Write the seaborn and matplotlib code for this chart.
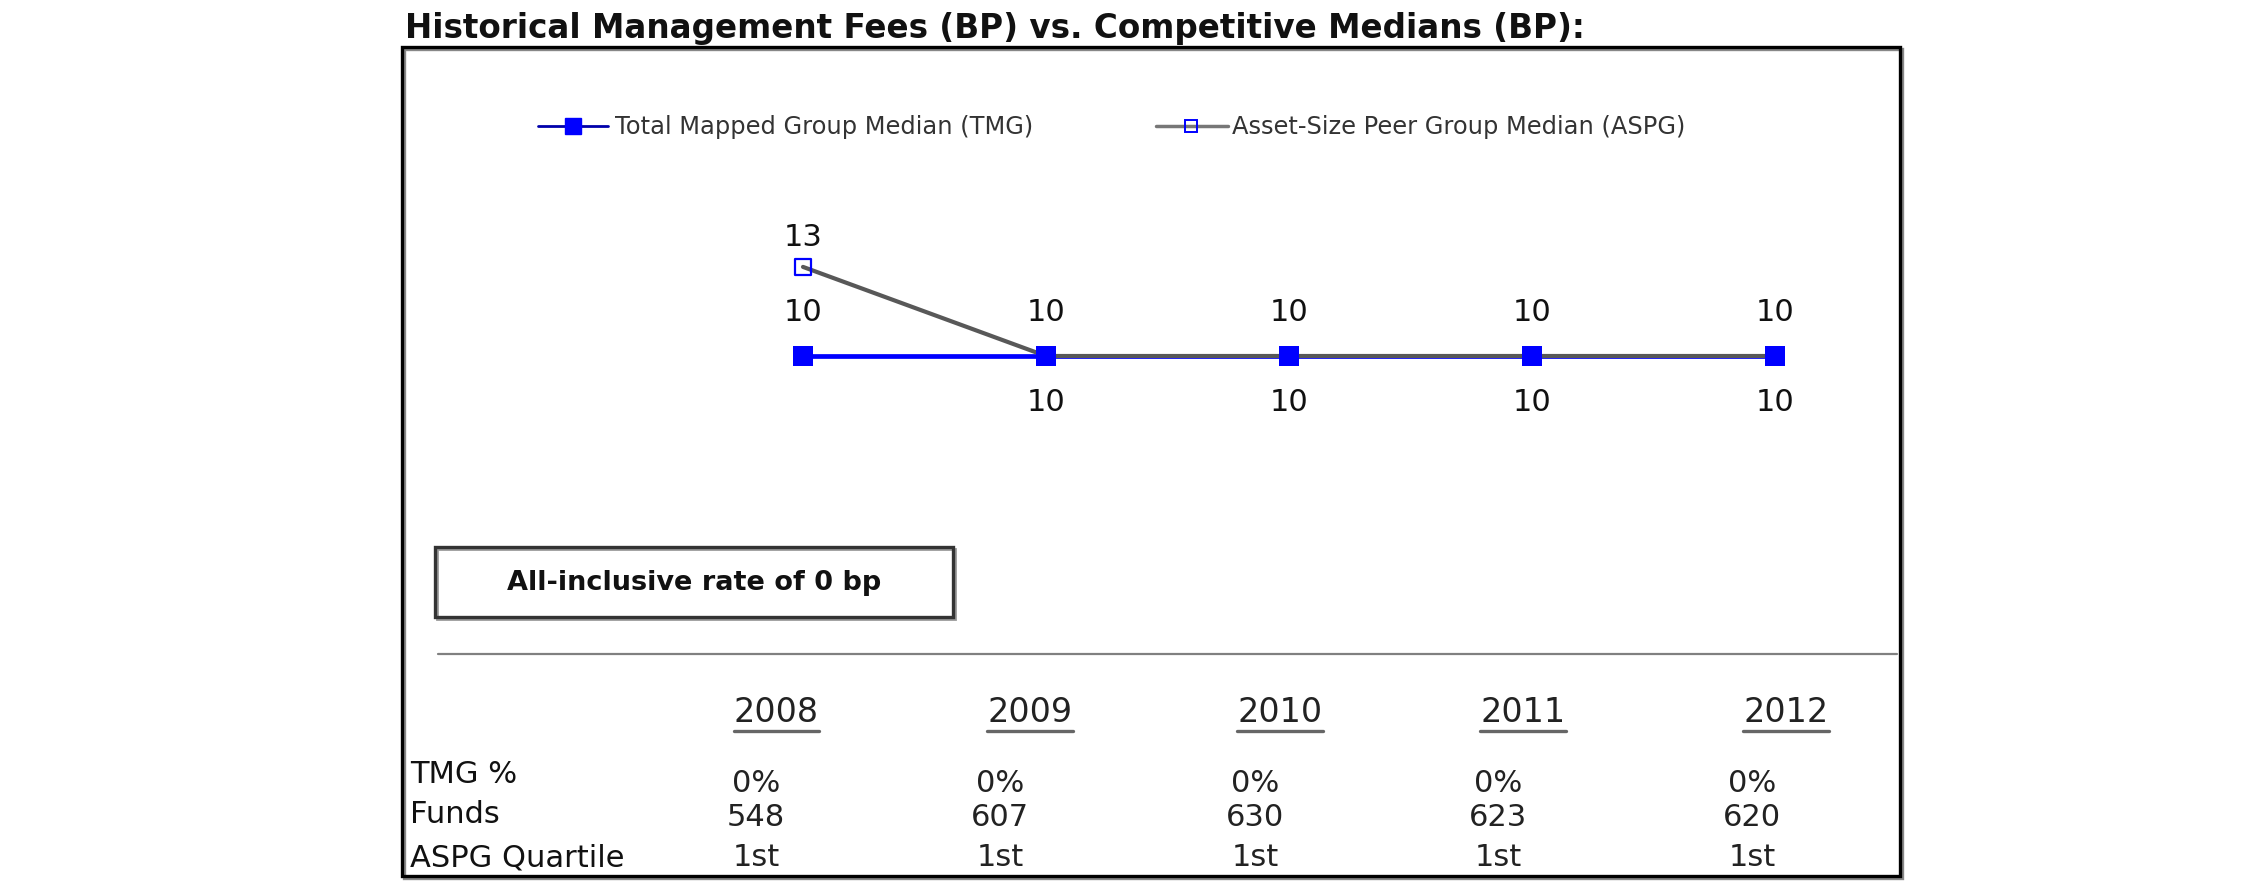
import matplotlib
matplotlib.use("Agg")
import matplotlib.pyplot as plt
import seaborn as sns
import pandas as pd
from matplotlib.patches import Rectangle
from matplotlib.lines import Line2D

# ---------------- data ----------------
years = [2008, 2009, 2010, 2011, 2012]
tmg_median = [10, 10, 10, 10, 10]
aspg_median = [13, 10, 10, 10, 10]
tmg_pct = ["0%", "0%", "0%", "0%", "0%"]
funds = [548, 607, 630, 623, 620]
aspg_quartile = ["1st", "1st", "1st", "1st", "1st"]
row_labels = ["TMG %", "Funds", "ASPG Quartile"]
title = "Historical Management Fees (BP) vs. Competitive Medians (BP):"
tmg_name = "Total Mapped Group Median (TMG)"
aspg_name = "Asset-Size Peer Group Median (ASPG)"
box_text = "All-inclusive rate of 0 bp"

# ---------------- layout ----------------
W, H = 2250, 895
sns.set_theme(style="white")
plt.rcParams["font.family"] = ["DejaVu Sans"]

fig = plt.figure(figsize=(W / 100, H / 100), dpi=100)
fig.patch.set_facecolor("white")


def fx(x):
    return x / W


def fy(y):
    return 1 - y / H


# chart axes: x unit = 243 px, y unit = 29.7 px
x_first_px = 803
unit_x = 243.0
unit_y = 29.7
y10_px = 357
ax_left = x_first_px - 0.5 * unit_x
ax_w = 5 * unit_x
ylo, yhi = 6, 16
ax_bottom = (H - y10_px) - (10 - ylo) * unit_y
ax_h = (yhi - ylo) * unit_y
ax = fig.add_axes([ax_left / W, ax_bottom / H, ax_w / W, ax_h / H])
ax.set_xlim(years[0] - 0.5, years[-1] + 0.5)
ax.set_ylim(ylo, yhi)
ax.axis("off")

df = pd.DataFrame({"year": years, "tmg": tmg_median, "aspg": aspg_median})

blue = "#0000FF"
gray_line = "#585858"

sns.lineplot(data=df, x="year", y="tmg", ax=ax, color=blue, linewidth=3.4,
             zorder=1, legend=False)
sns.lineplot(data=df, x="year", y="aspg", ax=ax, color=gray_line, linewidth=3.0,
             zorder=2, legend=False)
sns.scatterplot(data=df, x="year", y="tmg", ax=ax, color=blue, marker="s",
                s=200, linewidth=0, zorder=3, legend=False)
sns.scatterplot(data=df, x="year", y="aspg", ax=ax, color=blue, marker="s",
                s=140, linewidth=1.6, zorder=4, legend=False)
pts = ax.collections[-1]
pts.set_facecolor("none")
pts.set_edgecolor(blue)

label_kw = dict(ha="center", va="center", fontsize=22, color="#111111",
                textcoords="offset points")
for yr, v in zip(years, tmg_median):
    ax.annotate(f"{v}", (yr, v), xytext=(0, 32), **label_kw)
for yr, v, t in zip(years, aspg_median, tmg_median):
    if v > t:
        ax.annotate(f"{v}", (yr, v), xytext=(0, 22), **label_kw)
    else:
        ax.annotate(f"{v}", (yr, v), xytext=(0, -33), **label_kw)

# ---------------- outer frame ----------------
fx0, fy0, fx1, fy1 = 402, 48, 1900, 877
fig.add_artist(Rectangle((fx(fx0 + 2), fy(fy1 + 2)), (fx1 - fx0) / W, (fy1 - fy0) / H,
                         transform=fig.transFigure, fill=False, edgecolor="#888888",
                         linewidth=2.4))
fig.add_artist(Rectangle((fx(fx0), fy(fy1)), (fx1 - fx0) / W, (fy1 - fy0) / H,
                         transform=fig.transFigure, fill=False, edgecolor="black",
                         linewidth=2.4))

# title
fig.text(fx(405), fy(38), title, ha="left", va="baseline", fontsize=23.5,
         fontweight="bold", color="#111111")

# ---------------- legend ----------------
leg_y = 127
fig.add_artist(Line2D([fx(538), fx(608)], [fy(leg_y), fy(leg_y)], color="#0000AA",
                      linewidth=2.0, transform=fig.transFigure))
fig.add_artist(Line2D([fx(573)], [fy(leg_y)], marker="s", markersize=12,
                      color=blue, linestyle="none", transform=fig.transFigure))
fig.text(fx(615), fy(leg_y), tmg_name, ha="left", va="center", fontsize=17.4,
         color="#333333")
fig.add_artist(Line2D([fx(1156), fx(1228)], [fy(leg_y), fy(leg_y)], color="#777777",
                      linewidth=2.5, transform=fig.transFigure))
fig.add_artist(Line2D([fx(1191)], [fy(leg_y)], marker="s", markersize=9,
                      markerfacecolor="none", markeredgecolor=blue,
                      markeredgewidth=1.4, linestyle="none",
                      transform=fig.transFigure))
fig.text(fx(1232), fy(leg_y), aspg_name, ha="left", va="center", fontsize=17.4,
         color="#333333")

# ---------------- note box ----------------
bx0, by0, bx1, by1 = 435, 548, 953, 618
fig.add_artist(Rectangle((fx(bx0 + 2), fy(by1 + 2)), (bx1 - bx0) / W, (by1 - by0) / H,
                         transform=fig.transFigure, fill=False, edgecolor="#999999",
                         linewidth=2.0))
fig.add_artist(Rectangle((fx(bx0), fy(by1)), (bx1 - bx0) / W, (by1 - by0) / H,
                         transform=fig.transFigure, fill=False, edgecolor="#333333",
                         linewidth=2.4))
fig.text(fx((bx0 + bx1) / 2), fy((by0 + by1) / 2), box_text, ha="center", va="center",
         fontsize=19.5, fontweight="bold", color="#111111")

# separator
fig.add_artist(Line2D([fx(438), fx(1897)], [fy(655), fy(655)], color="#808080",
                      linewidth=1.6, transform=fig.transFigure))

# ---------------- table ----------------
year_x = [776, 1030, 1280, 1523, 1786]
val_x = [756, 1000, 1255, 1498, 1752]
year_y = 713
row_y_labels = [775, 815, 858]
row_y_vals = [784, 818, 858]

year_texts = []
for yr, x in zip(years, year_x):
    t = fig.text(fx(x), fy(year_y), str(yr), ha="center", va="center", fontsize=24,
                 color="#222222")
    year_texts.append(t)

for lab, y in zip(row_labels, row_y_labels):
    fig.text(fx(410), fy(y), lab, ha="left", va="center", fontsize=22, color="#111111")

rows = [tmg_pct, [str(f) for f in funds], aspg_quartile]
for vals, y in zip(rows, row_y_vals):
    for v, x in zip(vals, val_x):
        fig.text(fx(x), fy(y), v, ha="center", va="center", fontsize=22,
                 color="#222222")

# underline years
fig.canvas.draw()
renderer = fig.canvas.get_renderer()
for t in year_texts:
    bb = t.get_window_extent(renderer)
    fig.add_artist(Line2D([bb.x0 / W, bb.x1 / W], [fy(732), fy(732)], color="#666666",
                          linewidth=2.4, transform=fig.transFigure))

fig.savefig("out.png", dpi=100, facecolor="white")
